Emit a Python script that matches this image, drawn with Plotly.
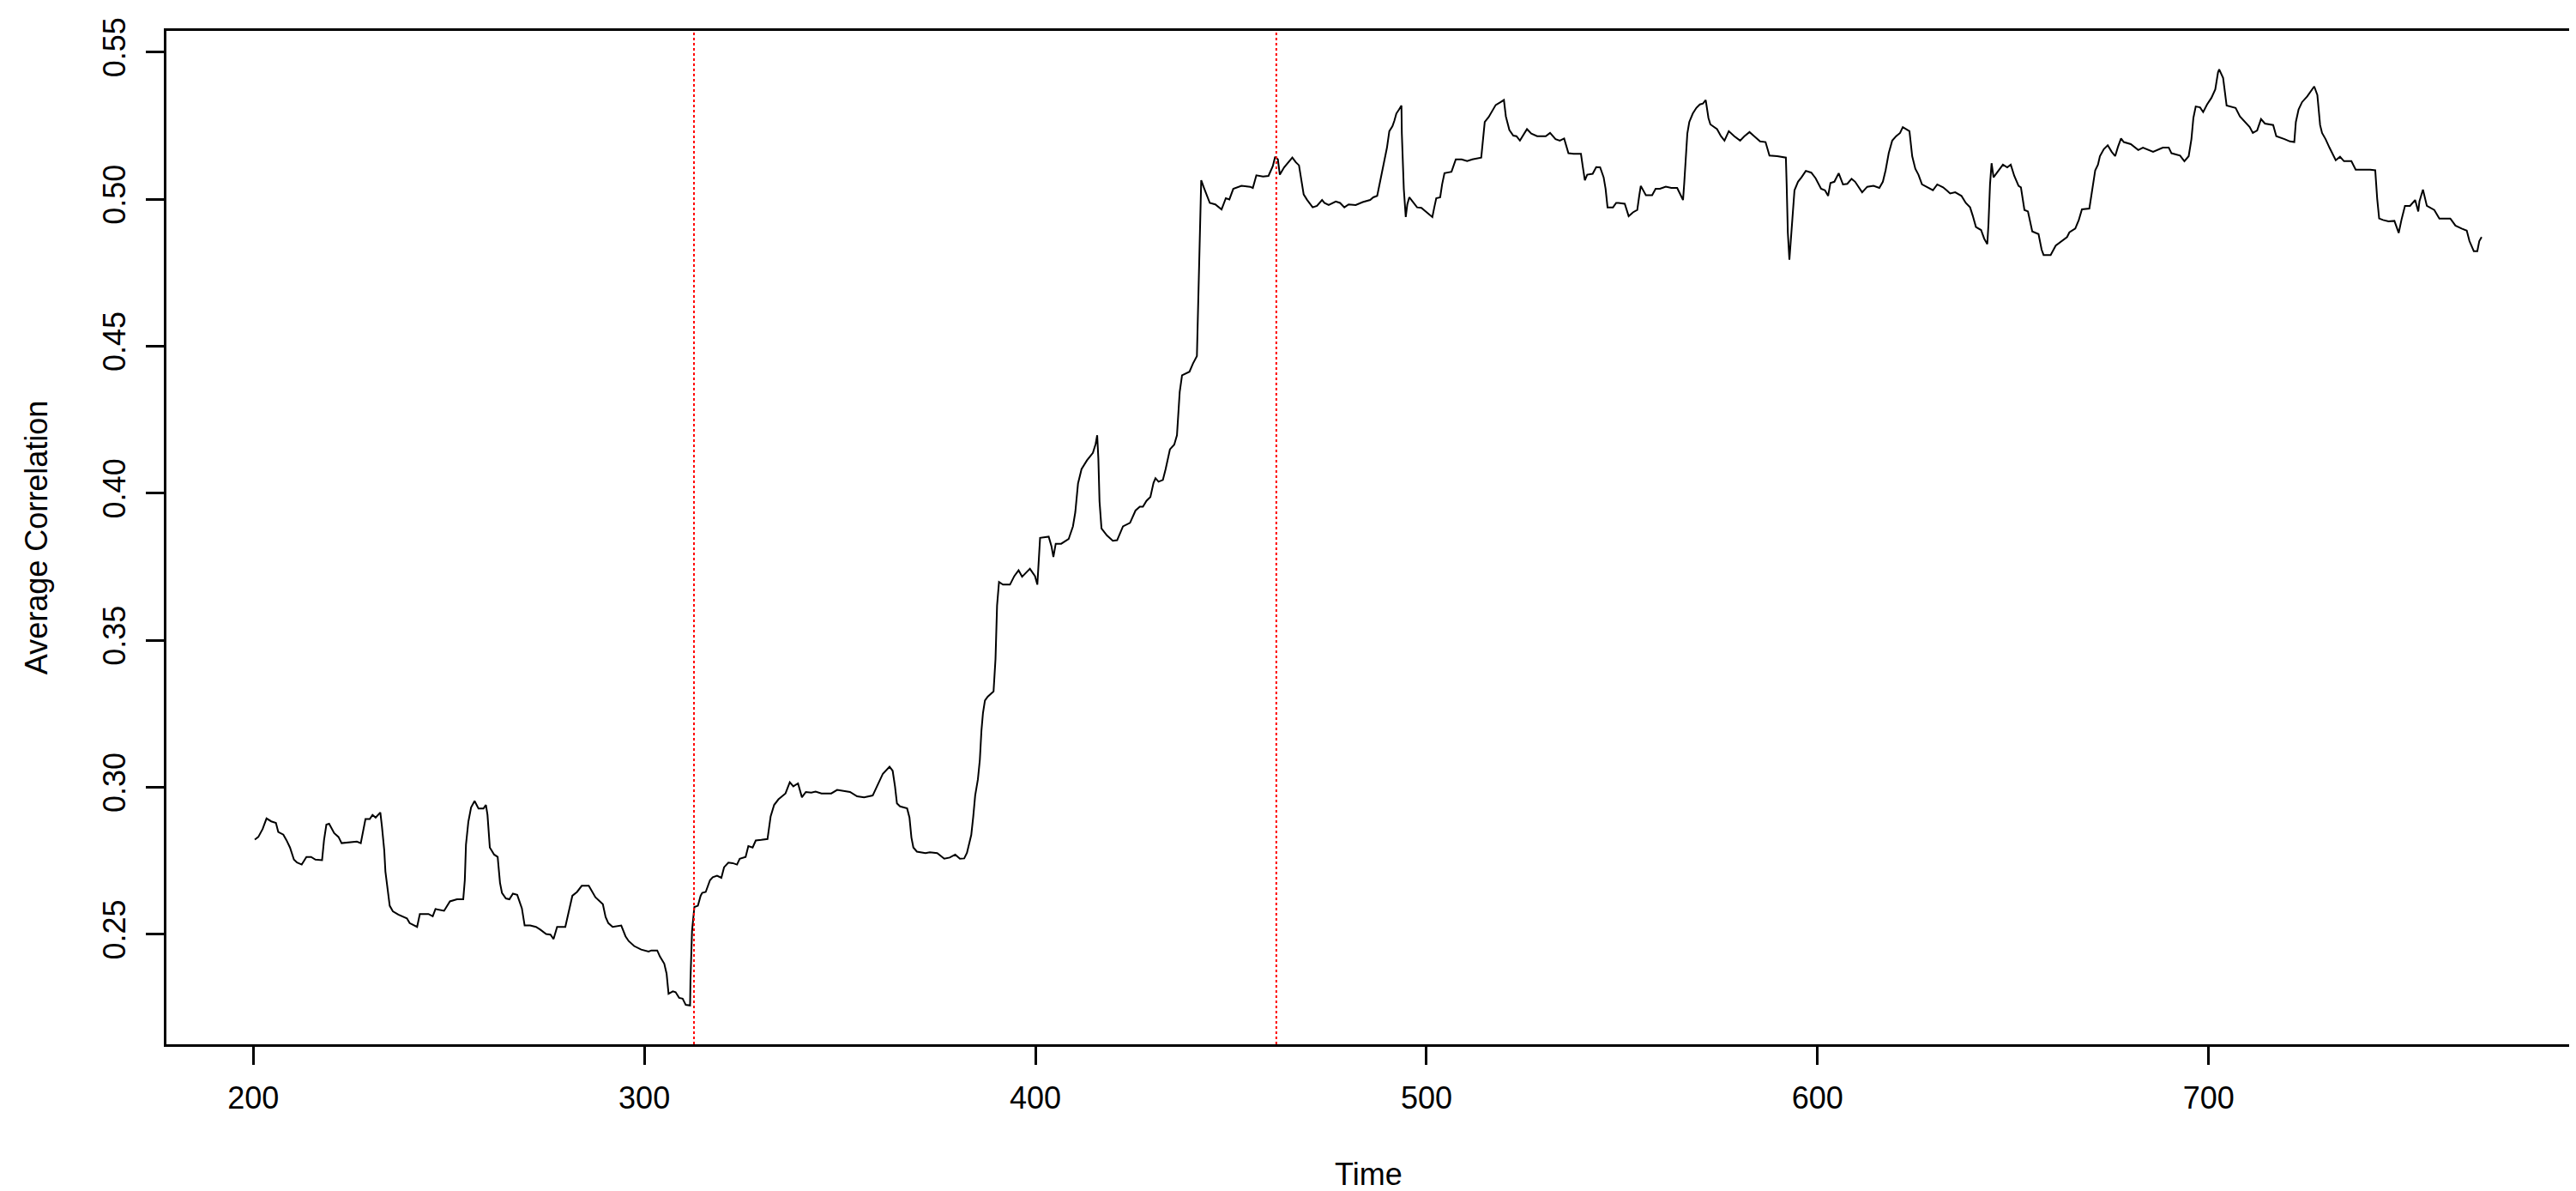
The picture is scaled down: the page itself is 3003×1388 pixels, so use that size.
import plotly.graph_objects as go

# average correlation
time = [
    200.4, 201.3, 202.4, 203.4, 204.6, 205.8, 206.4, 207.7, 208.5, 209.4,
    210.4, 211.2, 212.4, 213.6, 214.8, 215.9, 217.6, 218.1, 218.7, 219.4,
    220.7, 221.8, 222.6, 224.7, 226.5, 227.5, 228.0, 228.7, 229.8, 230.5,
    231.3, 232.0, 232.5, 232.9, 233.5, 233.8, 234.2, 234.9, 235.7, 237.1,
    239.3, 240.0, 241.9, 242.6, 244.8, 245.9, 246.6, 248.8, 250.3, 252.1,
    253.7, 254.1, 254.4, 255.0, 255.7, 256.6, 257.6, 258.9, 259.5, 259.9,
    260.5, 261.6, 262.5, 263.1, 263.6, 264.6, 265.5, 266.4, 267.5, 268.7,
    269.4, 270.8, 272.3, 273.4, 274.9, 276.0, 276.8, 277.7, 279.8, 280.7,
    281.6, 282.8, 284.0, 285.8,
    287.5, 289.4, 290.1, 290.8, 291.9, 294.1, 295.2, 296.0, 297.4, 299.2,
    301.1, 301.8, 303.3, 304.0, 305.1, 305.7, 306.2, 307.3, 308.0, 308.9,
    309.8, 310.6, 311.7, 311.8, 312.2, 312.8, 313.7, 314.4, 314.8, 315.7,
    316.8, 317.5, 318.6, 319.7, 320.4, 321.5, 322.6, 323.7, 324.4, 325.9,
    326.6, 327.7, 328.5, 329.9, 331.5, 332.3, 333.2, 334.3, 336.1, 337.2,
    338.1, 339.3, 340.3, 341.3, 342.7, 343.8, 345.3, 347.8, 349.3, 352.6,
    354.4, 356.2, 358.4, 359.5, 361.0, 362.7, 363.5, 364.1, 364.6, 365.4,
    367.2, 367.8, 368.3, 368.8, 369.7, 371.9, 373.0, 374.9, 376.7, 378.1,
    379.5, 380.7, 381.8,
    382.5, 383.6, 384.1, 384.6, 385.3, 385.8, 386.2, 386.6, 387.1, 387.8,
    389.3, 389.8, 390.2, 390.7, 391.7, 393.5, 394.6, 395.7, 396.6, 398.6,
    399.9, 400.5, 401.2, 402.3, 403.4, 404.1, 404.6, 405.2, 406.6, 408.5,
    409.6, 410.2, 410.9, 411.8, 413.2, 414.7, 415.4, 415.8, 416.1, 416.4,
    416.9, 418.3, 419.8, 420.9, 422.4, 424.2, 425.6, 426.7, 427.5, 428.4,
    429.4, 430.2, 430.7, 431.5, 432.6, 433.3, 434.4, 435.5, 436.2, 436.9,
    437.5, 439.4, 440.3, 441.3,
    442.4, 443.2, 444.6, 446.0, 447.6, 448.7, 449.6, 450.6, 452.7, 454.9,
    455.6, 456.5, 458.2, 459.6, 460.7, 461.3, 462.0, 462.5, 463.6, 465.7,
    466.6, 467.4, 468.0, 468.6, 469.5, 470.9, 472.0, 473.3, 473.9, 475.0,
    476.8, 477.9, 479.0, 480.1, 481.9, 483.7, 485.6, 486.4, 487.4, 488.1,
    488.8, 489.4, 489.9, 490.5, 491.3, 491.8, 492.3, 493.0, 493.6, 493.7,
    494.2, 494.7, 495.1, 495.6, 496.5, 497.6, 498.7, 500.2, 501.5, 502.0,
    502.5, 503.5, 504.0, 504.6, 506.4, 507.5, 509.0, 510.4, 511.7, 514.0,
    514.2, 514.9, 515.9, 517.0, 517.7, 519.0, 519.8, 520.3, 521.2, 522.2,
    523.0, 523.9, 524.9, 525.7, 526.8, 528.3, 530.5, 531.6, 533.0, 534.1,
    535.2, 536.3, 537.6, 539.5, 540.0, 540.5, 541.1, 542.5, 543.4, 544.4,
    545.3, 545.8, 546.3, 547.7, 548.5,
    549.1, 550.7, 551.7, 552.8, 553.9, 554.4, 554.8, 556.1, 557.7, 558.6,
    559.7, 561.2, 562.6, 564.1, 565.0, 565.6, 565.9, 566.3, 566.7, 567.2,
    568.1, 569.0, 569.9, 570.7, 571.4, 572.1, 572.6, 574.3, 575.3, 576.2,
    577.3, 578.7, 580.2, 581.3, 582.6, 583.8, 585.3, 586.7, 587.7, 589.7,
    591.9, 592.1, 592.4, 592.8, 593.1, 593.5, 594.1, 595.0, 595.9, 597.0,
    598.4, 599.5, 600.9, 601.9, 602.7, 603.3, 604.3, 605.4, 606.5, 607.6,
    608.7, 609.6, 610.5, 611.4, 612.7, 614.3, 615.8, 616.7, 617.4, 618.2,
    619.1, 620.1, 621.1, 621.8, 623.5, 624.2, 625.0, 625.8, 626.7, 628.0,
    629.5, 630.6, 632.1, 633.0, 633.9, 635.2, 636.8, 637.9, 639.0, 639.7,
    640.5, 641.8, 642.6, 643.4, 643.7, 644.1, 644.5, 645.0, 646.0, 647.4,
    648.5, 649.4, 650.3, 651.4, 652.0, 652.9, 653.8, 654.9, 656.5, 657.3,
    657.8, 659.6,
    660.9, 662.4, 663.8, 664.4, 665.9, 666.8, 667.6, 669.5, 670.3, 671.0,
    671.7, 672.2, 673.2, 674.2, 675.2, 676.1, 676.8, 677.6, 678.3, 680.1,
    682.0, 683.2, 685.8, 688.3, 689.8, 690.5, 692.7, 693.8, 694.9, 695.6,
    696.1, 696.7, 697.8, 698.6, 699.6, 700.7, 701.7, 702.4, 702.7, 703.7,
    704.6, 705.6, 706.9, 708.0, 709.1, 710.5, 711.3, 712.4, 713.4, 714.4,
    716.5, 717.3, 719.4, 720.8, 721.9, 722.3, 723.0, 723.9, 725.2, 726.3,
    727.0, 727.8, 728.5, 729.0, 729.9, 730.9, 731.6, 732.5, 733.6, 734.6,
    736.5, 737.6, 741.3, 742.6, 743.1, 743.6, 744.6, 746.0, 747.5, 748.6,
    749.3, 750.2, 751.5, 752.8, 753.6, 753.9, 754.8, 755.8, 757.7, 759.0,
    761.8, 763.1, 764.7, 766.0, 766.7, 767.8, 768.7, 769.2, 769.8,
]
avg_corr = [
    0.2822, 0.2831, 0.2858, 0.2894, 0.2884, 0.2879, 0.2848, 0.2839, 0.2820, 0.2795,
    0.2754, 0.2744, 0.2737, 0.2763, 0.2763, 0.2754, 0.2752, 0.2820, 0.2873, 0.2876,
    0.2844, 0.2831, 0.2810, 0.2812, 0.2815, 0.2810, 0.2848, 0.2892, 0.2892, 0.2906,
    0.2897, 0.2906, 0.2914, 0.2868, 0.2786, 0.2713, 0.2665, 0.2597, 0.2578, 0.2567,
    0.2554, 0.2538, 0.2525, 0.2569, 0.2569, 0.2561, 0.2586, 0.2580, 0.2612, 0.2619,
    0.2619, 0.2684, 0.2805, 0.2882, 0.2931, 0.2953, 0.2928, 0.2928, 0.2940, 0.2906,
    0.2795, 0.2771, 0.2763, 0.2675, 0.2641, 0.2622, 0.2619, 0.2638, 0.2634, 0.2588,
    0.2530, 0.2530, 0.2525, 0.2516, 0.2501, 0.2499, 0.2484, 0.2525, 0.2525, 0.2578,
    0.2631, 0.2644, 0.2665, 0.2665,
    0.2626, 0.2602, 0.2559, 0.2538, 0.2525, 0.2530, 0.2493, 0.2477, 0.2460, 0.2448,
    0.2441, 0.2445, 0.2445, 0.2424, 0.2400, 0.2366, 0.2298, 0.2306, 0.2303, 0.2284,
    0.2281, 0.2260, 0.2258, 0.2342, 0.2511, 0.2593, 0.2597, 0.2631, 0.2641, 0.2644,
    0.2684, 0.2694, 0.2699, 0.2692, 0.2728, 0.2744, 0.2742, 0.2737, 0.2757, 0.2763,
    0.2800, 0.2795, 0.2819, 0.2821, 0.2824, 0.2901, 0.2940, 0.2959, 0.2979, 0.3017,
    0.3003, 0.3013, 0.2966, 0.2984, 0.2982, 0.2985, 0.2979, 0.2979, 0.2991, 0.2984,
    0.2969, 0.2966, 0.2972, 0.3003, 0.3046, 0.3070, 0.3056, 0.3003, 0.2945, 0.2935,
    0.2928, 0.2897, 0.2829, 0.2795, 0.2781, 0.2776, 0.2779, 0.2776, 0.2757, 0.2761,
    0.2771, 0.2757, 0.2758,
    0.2777, 0.2838, 0.2899, 0.2972, 0.3027, 0.3094, 0.3192, 0.3253, 0.3295, 0.3308,
    0.3326, 0.3436, 0.3618, 0.3698, 0.3689, 0.3689, 0.3718, 0.3738, 0.3716, 0.3743,
    0.3718, 0.3689, 0.3848, 0.3850, 0.3852, 0.3820, 0.3783, 0.3828, 0.3828, 0.3844,
    0.3887, 0.3935, 0.4033, 0.4082, 0.4112, 0.4137, 0.4167, 0.4197, 0.4118, 0.3972,
    0.3880, 0.3856, 0.3838, 0.3840, 0.3887, 0.3899, 0.3941, 0.3954, 0.3954, 0.3974,
    0.3987, 0.4035, 0.4051, 0.4039, 0.4045, 0.4082, 0.4149, 0.4165, 0.4197, 0.4344,
    0.4401, 0.4413, 0.4441, 0.4466,
    0.5064, 0.5035, 0.4987, 0.4982, 0.4965, 0.5003, 0.4999, 0.5035, 0.5045, 0.5042,
    0.5038, 0.5081, 0.5077, 0.5079, 0.5112, 0.5144, 0.5135, 0.5083, 0.5108, 0.5141,
    0.5125, 0.5115, 0.5069, 0.5016, 0.4997, 0.4972, 0.4977, 0.4997, 0.4987, 0.4980,
    0.4992, 0.4987, 0.4972, 0.4982, 0.4980, 0.4990, 0.4997, 0.5006, 0.5011, 0.5059,
    0.5108, 0.5146, 0.5175, 0.5231, 0.5248, 0.5267, 0.5291, 0.5305, 0.5318, 0.5223,
    0.5035, 0.4939, 0.4982, 0.5006, 0.4992, 0.4972, 0.4970, 0.4953, 0.4939, 0.4972,
    0.5003, 0.5006, 0.5050, 0.5088, 0.5093, 0.5135, 0.5135, 0.5129, 0.5135, 0.5141,
    0.5170, 0.5262, 0.5279, 0.5305, 0.5320, 0.5330, 0.5337, 0.5281, 0.5235, 0.5216,
    0.5214, 0.5199, 0.5223, 0.5238, 0.5223, 0.5214, 0.5214, 0.5225, 0.5204, 0.5199,
    0.5206, 0.5156, 0.5154, 0.5154, 0.5108, 0.5064, 0.5083, 0.5086, 0.5109, 0.5108,
    0.5074, 0.5035, 0.4972, 0.4972, 0.4987,
    0.4987, 0.4984, 0.4942, 0.4955, 0.4963, 0.5011, 0.5045, 0.5013, 0.5013, 0.5035,
    0.5035, 0.5042, 0.5038, 0.5038, 0.5016, 0.4997, 0.5052, 0.5156, 0.5223, 0.5262,
    0.5291, 0.5310, 0.5322, 0.5325, 0.5337, 0.5276, 0.5254, 0.5238, 0.5214, 0.5199,
    0.5231, 0.5214, 0.5199, 0.5214, 0.5228, 0.5214, 0.5196, 0.5194, 0.5148, 0.5146,
    0.5141, 0.5050, 0.4886, 0.4794, 0.4847, 0.4943, 0.5030, 0.5059, 0.5074, 0.5096,
    0.5090, 0.5071, 0.5035, 0.5030, 0.5011, 0.5055, 0.5059, 0.5088, 0.5050, 0.5052,
    0.5069, 0.5059, 0.5040, 0.5023, 0.5042, 0.5045, 0.5038, 0.5059, 0.5098, 0.5156,
    0.5199, 0.5214, 0.5225, 0.5245, 0.5231, 0.5146, 0.5103, 0.5083, 0.5050, 0.5040,
    0.5030, 0.5050, 0.5040, 0.5030, 0.5019, 0.5023, 0.5011, 0.4987, 0.4972, 0.4943,
    0.4905, 0.4895, 0.4866, 0.4847, 0.4914, 0.5050, 0.5122, 0.5074, 0.5093, 0.5117,
    0.5108, 0.5117, 0.5079, 0.5045, 0.5040, 0.4963, 0.4958, 0.4890, 0.4881, 0.4828,
    0.4810, 0.4810,
    0.4842, 0.4857, 0.4871, 0.4887, 0.4900, 0.4929, 0.4965, 0.4968, 0.5040, 0.5098,
    0.5117, 0.5146, 0.5170, 0.5183, 0.5161, 0.5146, 0.5177, 0.5206, 0.5194, 0.5187,
    0.5167, 0.5175, 0.5161, 0.5175, 0.5175, 0.5156, 0.5148, 0.5129, 0.5146, 0.5204,
    0.5276, 0.5315, 0.5312, 0.5296, 0.5322, 0.5344, 0.5373, 0.5431, 0.5441, 0.5412,
    0.5318, 0.5315, 0.5310, 0.5281, 0.5264, 0.5245, 0.5225, 0.5233, 0.5272, 0.5257,
    0.5252, 0.5214, 0.5204, 0.5196, 0.5194, 0.5262, 0.5305, 0.5330, 0.5349, 0.5370,
    0.5383, 0.5354, 0.5252, 0.5225, 0.5204, 0.5175, 0.5156, 0.5132, 0.5144, 0.5129,
    0.5129, 0.5100, 0.5100, 0.5098, 0.5001, 0.4934, 0.4929, 0.4924, 0.4926, 0.4885,
    0.4929, 0.4977, 0.4977, 0.4997, 0.4958, 0.4992, 0.5032, 0.4977, 0.4963, 0.4934,
    0.4934, 0.4910, 0.4900, 0.4893, 0.4857, 0.4823, 0.4823, 0.4857, 0.4871,
]

# dotted red break lines
break_times = [312.7, 461.6]

x_ticks = [200, 300, 400, 500, 600, 700]
y_ticks = [0.25, 0.30, 0.35, 0.40, 0.45, 0.50, 0.55]

font = "Liberation Sans, Arial, sans-serif"

fig = go.Figure()

fig.add_trace(go.Scatter(
    x=time, y=avg_corr, mode="lines",
    line=dict(color="black", width=2),
    showlegend=False, hoverinfo="skip",
))

for bt in break_times:
    fig.add_vline(x=bt, line=dict(color="red", width=2, dash="dot"))

axis_common = dict(
    showgrid=False, zeroline=False,
    showline=True, mirror=True, linecolor="black", linewidth=2.5,
    ticks="outside", ticklen=21, tickwidth=2.5, tickcolor="black",
    tickfont=dict(family=font, size=36, color="black"),
)

fig.update_xaxes(
    range=[177.8, 792.4], tickvals=x_ticks,
    ticklabelstandoff=8, **axis_common,
)
fig.update_yaxes(
    range=[0.2126, 0.5572], tickvals=y_ticks, tickformat=".2f",
    tickangle=-90, ticklabelstandoff=10, **axis_common,
)

fig.add_annotation(
    text="Time", xref="paper", yref="paper", x=0.5, y=-0.128,
    showarrow=False, xanchor="center", yanchor="middle",
    font=dict(family=font, size=36, color="black"),
)
fig.add_annotation(
    text="Average Correlation", xref="paper", yref="paper", x=-0.054, y=0.5,
    showarrow=False, xanchor="center", yanchor="middle", textangle=-90,
    font=dict(family=font, size=36, color="black"),
)

fig.update_layout(
    width=3003, height=1388,
    margin=dict(l=186, r=13, t=19, b=179),
    plot_bgcolor="white", paper_bgcolor="white",
)

fig.write_html("out.html")
